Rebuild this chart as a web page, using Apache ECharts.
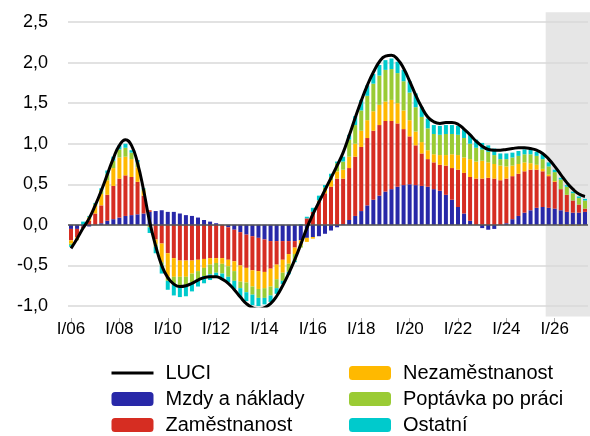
<!DOCTYPE html>
<html>
<head>
<meta charset="utf-8">
<script src="https://cdn.jsdelivr.net/npm/echarts@6/dist/echarts.min.js"></script>
<style>
  html, body { margin: 0; padding: 0; background: #fff; }
  #main { width: 590px; height: 436px; }
</style>
</head>
<body>
<div id="main"></div>
<script>
// quarters I/06 .. II/27
var quarters = ['I', 'II', 'III', 'IV'];
var categories = [];
for (var i = 0; i < 86; i++) {
  var yy = 6 + Math.floor(i / 4);
  categories.push(quarters[i % 4] + '/' + (yy < 10 ? '0' + yy : yy));
}
var forecastStart = 'IV/25';

var mzdy = [-0.05,-0.05,-0.02,-0.02,0.00,0.02,0.05,0.07,0.09,0.11,0.12,0.13,0.14,0.16,0.17,
  0.18,0.16,0.16,0.14,0.12,0.11,0.09,0.06,0.04,0.02,0.00,-0.03,-0.06,-0.09,-0.12,
  -0.14,-0.16,-0.18,-0.20,-0.20,-0.20,-0.20,-0.20,-0.19,-0.16,-0.15,-0.14,-0.11,-0.07,-0.03,
  0.01,0.06,0.11,0.17,0.24,0.31,0.36,0.41,0.44,0.47,0.49,0.50,0.49,0.48,0.47,
  0.44,0.42,0.37,0.31,0.22,0.14,0.05,0.00,-0.04,-0.06,-0.05,0.00,0.02,0.07,0.11,
  0.15,0.18,0.21,0.22,0.21,0.20,0.18,0.16,0.15,0.15,0.16];

var zamestnanost = [-0.14,-0.10,-0.02,0.05,0.14,0.22,0.32,0.41,0.48,0.50,0.47,0.40,0.22,0.02,-0.18,
  -0.23,-0.35,-0.41,-0.44,-0.44,-0.44,-0.43,-0.42,-0.41,-0.41,-0.41,-0.40,-0.39,-0.41,-0.41,
  -0.42,-0.41,-0.40,-0.34,-0.29,-0.23,-0.16,-0.08,0.00,0.08,0.16,0.29,0.39,0.47,0.57,
  0.56,0.64,0.73,0.79,0.83,0.85,0.87,0.87,0.84,0.78,0.69,0.59,0.49,0.40,0.34,
  0.33,0.32,0.36,0.39,0.46,0.50,0.54,0.57,0.57,0.58,0.57,0.55,0.55,0.53,0.52,
  0.51,0.50,0.47,0.44,0.39,0.33,0.26,0.21,0.15,0.10,0.04];

var nezamestnanost = [-0.04,-0.02,0.00,0.04,0.10,0.14,0.18,0.22,0.26,0.23,0.22,0.18,0.06,0.00,-0.06,
  -0.23,-0.29,-0.23,-0.20,-0.20,-0.16,-0.14,-0.11,-0.08,-0.06,-0.07,-0.08,-0.12,-0.20,-0.18,
  -0.20,-0.22,-0.20,-0.22,-0.18,-0.16,-0.12,-0.08,-0.06,-0.05,-0.02,0.01,0.04,0.08,0.09,
  0.11,0.14,0.16,0.20,0.22,0.24,0.25,0.24,0.26,0.25,0.23,0.20,0.17,0.14,0.11,
  0.10,0.12,0.13,0.17,0.18,0.19,0.22,0.21,0.22,0.19,0.18,0.18,0.15,0.13,0.12,
  0.11,0.08,0.06,0.03,0.02,0.01,-0.01,-0.01,-0.01,-0.01,0.00];

var poptavka = [-0.02,-0.02,0.00,0.01,0.02,0.05,0.08,0.09,0.10,0.11,0.08,0.06,0.02,-0.03,-0.03,
  -0.04,-0.05,-0.09,-0.11,-0.10,-0.11,-0.12,-0.10,-0.12,-0.12,-0.12,-0.13,-0.12,-0.08,-0.12,
  -0.10,-0.11,-0.12,-0.11,-0.11,-0.10,-0.10,-0.08,-0.03,0.00,0.00,0.00,0.03,0.04,0.10,
  0.10,0.21,0.23,0.25,0.30,0.34,0.36,0.39,0.38,0.37,0.36,0.34,0.30,0.31,0.27,
  0.25,0.25,0.26,0.25,0.25,0.24,0.19,0.17,0.14,0.13,0.11,0.08,0.09,0.10,0.10,
  0.10,0.11,0.11,0.12,0.10,0.11,0.12,0.10,0.09,0.08,0.10];

var ostatni = [-0.02,0.00,0.04,0.01,0.01,0.02,0.04,0.05,0.05,0.05,0.03,0.03,0.01,-0.07,-0.08,
  -0.10,-0.11,-0.14,-0.14,-0.14,-0.11,-0.07,-0.09,-0.07,-0.05,-0.07,-0.07,-0.10,-0.11,-0.11,
  -0.13,-0.11,-0.08,-0.08,-0.07,-0.04,-0.03,-0.02,0.01,0.02,0.05,0.06,0.03,0.04,0.02,
  0.06,0.06,0.11,0.13,0.13,0.12,0.13,0.12,0.13,0.14,0.14,0.14,0.17,0.12,0.12,
  0.11,0.11,0.11,0.11,0.11,0.11,0.11,0.10,0.08,0.08,0.08,0.07,0.07,0.06,0.06,
  0.06,0.06,0.05,0.06,0.05,0.03,0.02,0.02,0.02,0.02,0.02];

var luci = [-0.29,-0.17,-0.04,0.08,0.24,0.42,0.62,0.82,0.98,1.05,0.98,0.76,0.43,0.04,-0.26,
  -0.50,-0.65,-0.73,-0.76,-0.75,-0.72,-0.68,-0.65,-0.64,-0.64,-0.67,-0.72,-0.80,-0.89,-0.97,
  -1.02,-1.04,-1.02,-0.97,-0.88,-0.75,-0.60,-0.43,-0.24,-0.04,0.13,0.28,0.43,0.58,0.73,
  0.89,1.10,1.32,1.53,1.72,1.88,2.01,2.08,2.09,2.04,1.93,1.77,1.60,1.45,1.33,
  1.27,1.25,1.26,1.26,1.24,1.18,1.11,1.03,0.97,0.93,0.92,0.92,0.93,0.94,0.95,
  0.95,0.94,0.92,0.88,0.81,0.72,0.62,0.52,0.44,0.38,0.35];

var myChart = echarts.init(document.getElementById('main'));

function barSeries (name, color, data) {
  return {
    name: name,
    type: 'bar',
    stack: 'luci',
    barWidth: 4,
    itemStyle: { color: color },
    data: data
  };
}

var series = [
  barSeries('Mzdy a náklady', '#2828a8', mzdy),
  barSeries('Zaměstnanost', '#d62d22', zamestnanost),
  barSeries('Nezaměstnanost', '#ffb900', nezamestnanost),
  barSeries('Poptávka po práci', '#9acb34', poptavka),
  barSeries('Ostatní', '#00cacc', ostatni),
  {
    name: 'LUCI',
    type: 'line',
    smooth: 0.5,
    symbol: 'none',
    z: 5,
    lineStyle: { color: '#000', width: 3 },
    itemStyle: { color: '#000' },
    data: luci
  }
];
// zero line
series[0].markLine = {
  silent: true,
  symbol: 'none',
  label: { show: false },
  lineStyle: { color: '#555', width: 1.5, type: 'solid' },
  data: [{ yAxis: 0 }]
};

var legendBase = {
  orient: 'vertical',
  top: 358,
  height: 100,
  itemWidth: 42,
  itemHeight: 14,
  itemGap: 6,
  selectedMode: false,
  textStyle: { fontSize: 20, color: '#000', padding: [0, 0, 0, 7] }
};

var option = {
  animation: false,
  textStyle: { fontFamily: 'Liberation Sans, Arial, sans-serif' },
  grid: { left: 68, right: 2, top: 22, bottom: 130 },
  legend: [
    Object.assign({}, legendBase, {
      left: 105,
      data: [
        { name: 'LUCI', itemStyle: { opacity: 0 }, lineStyle: { width: 3, color: '#000' } },
        'Mzdy a náklady',
        'Zaměstnanost'
      ]
    }),
    Object.assign({}, legendBase, { left: 344, data: ['Nezaměstnanost', 'Poptávka po práci', 'Ostatní'] })
  ],
  xAxis: {
    type: 'category',
    data: categories,
    offset: 12,
    axisLine: { show: false, onZero: false },
    axisTick: { show: true, interval: 7, alignWithLabel: true, length: 4, lineStyle: { color: '#aaa' } },
    axisLabel: { interval: 7, fontSize: 17, color: '#000', margin: 3 }
  },
  yAxis: {
    type: 'value',
    min: -1,
    max: 2.5,
    interval: 0.5,
    axisLine: { show: false },
    axisTick: { show: false },
    splitLine: { lineStyle: { color: '#d9d9d9', width: 1.5 } },
    axisLabel: {
      fontSize: 18,
      color: '#000',
      margin: 20,
      formatter: function (v) { return v.toFixed(1).replace('.', ','); }
    }
  },
  series: series
};

myChart.setOption(option);

// shaded forecast area behind the bars
var x0 = myChart.convertToPixel({ xAxisIndex: 0 }, categories[0]);
var x1 = myChart.convertToPixel({ xAxisIndex: 0 }, categories[1]);
var xs = myChart.convertToPixel({ xAxisIndex: 0 }, forecastStart) - (x1 - x0) / 2;
var yTop = myChart.convertToPixel({ yAxisIndex: 0 }, 2.62);
var yBot = myChart.convertToPixel({ yAxisIndex: 0 }, -1.13);
myChart.setOption({
  graphic: [{
    type: 'rect',
    z: -1,
    silent: true,
    shape: { x: xs, y: yTop, width: 590 - xs, height: yBot - yTop },
    style: { fill: '#e6e6e6' }
  }]
});
</script>
</body>
</html>
